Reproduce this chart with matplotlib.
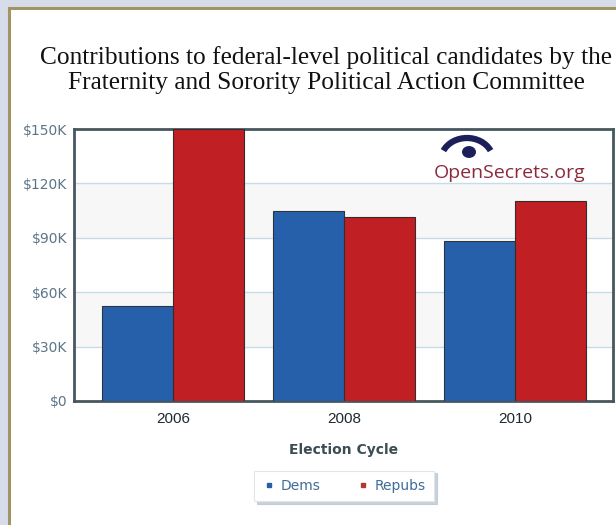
import matplotlib
matplotlib.use("Agg")
import matplotlib.pyplot as plt
import matplotlib.patches as mPatches
from matplotlib.lines import Line2D
import numpy as np

# data
cycles = ["2006", "2008", "2010"]
dems = [52500, 105000, 88500]
repubs = [150000, 101500, 110500]
yTicks = [0, 30000, 60000, 90000, 120000, 150000]
yLabels = ["$0", "$30K", "$60K", "$90K", "$120K", "$150K"]

W, H = 616, 525
fig = plt.figure(figsize=(W / 100, H / 100), dpi=100)
fig.patch.set_facecolor("#d6dcea")

# white panel with gold border
panel = mPatches.Rectangle((8.5 / W, -0.05), 1.1, (H - 7.5) / H + 0.05,
                           transform=fig.transFigure, facecolor="white",
                           edgecolor="#a39463", linewidth=2.2, zorder=-1)
fig.patches.append(panel)

fig.text(326 / W, 1 - 70 / H,
         "Contributions to federal-level political candidates by the\n"
         "Fraternity and Sorority Political Action Committee",
         ha="center", va="center", fontsize=18.3, family="Liberation Serif",
         color="#111111", linespacing=1.2)

ax = fig.add_axes([74 / W, (H - 401) / H, (613 - 74) / W, (401 - 129) / H])
ax.set_zorder(1)
ax.set_facecolor("white")

# faint alternating bands
for lo in (30000, 90000):
    ax.fill_between([-1, 3], lo, lo + 30000, color="#f7f7f7", linewidth=0, zorder=0)
for t in yTicks[1:-1]:
    ax.axhline(t, color="#c6dce9", linewidth=1, zorder=1)

x = np.arange(len(cycles))
w = 0.415
ax.bar(x - w / 2, dems, w, color="#2660ab", edgecolor="#2b3440",
       linewidth=0.8, zorder=3)
ax.bar(x + w / 2, repubs, w, color="#c01f24", edgecolor="#3a2a2a",
       linewidth=0.8, zorder=3)

ax.set_xlim(-0.58, 2.57)
ax.set_ylim(0, 150000)
ax.set_yticks(yTicks)
ax.set_yticklabels(yLabels, family="DejaVu Sans", fontsize=10, color="#5b7587")
ax.set_xticks(x)
ax.set_xticklabels(cycles, family="Liberation Sans", fontsize=11, color="#1e2a30")
ax.tick_params(length=0, pad=5)
ax.tick_params(axis="x", pad=8)
for s in ax.spines.values():
    s.set_color("#46575e")
    s.set_linewidth(2)

ax.set_xlabel("Election Cycle", family="DejaVu Sans", fontsize=10,
              fontweight="bold", color="#3e4c55", labelpad=12)

# OpenSecrets watermark
fig.text(510 / W, 1 - 173 / H, "OpenSecrets.org", ha="center", va="center",
         fontsize=14, family="Open Sans", color="#8c2a3c", zorder=5)
eye = mPatches.Circle((469 / W, 1 - 152 / H), 7 / W, transform=fig.transFigure,
                      facecolor="#1c1f5a", edgecolor="none", zorder=5)
fig.patches.append(eye)
brow = mPatches.Arc((467 / W, 1 - 160 / H), 52 / W, 44 / H, theta1=25, theta2=155,
                    transform=fig.transFigure, color="#1c1f5a", linewidth=4.5, zorder=5)
fig.patches.append(brow)

handles = [Line2D([], [], marker="s", linestyle="none", markersize=3.5,
                  color="#2660ab"),
           Line2D([], [], marker="s", linestyle="none", markersize=3.5,
                  color="#b0392e")]
leg = fig.legend(handles, ["Dems", "Repubs"], loc="center",
                 bbox_to_anchor=(344 / W, 1 - 486 / H), ncol=2, frameon=True,
                 fancybox=False, shadow={"color": "#b9c8d4", "alpha": 0.8},
                 handletextpad=0.3, handlelength=1.0,
                 columnspacing=2.6, borderpad=0.6,
                 prop={"family": "DejaVu Sans", "size": 10})
leg.get_frame().set_edgecolor("#e4e4e4")
leg.get_frame().set_linewidth(0.8)
for t in leg.get_texts():
    t.set_color("#3f6d99")

fig.savefig("out.png", dpi=100)
